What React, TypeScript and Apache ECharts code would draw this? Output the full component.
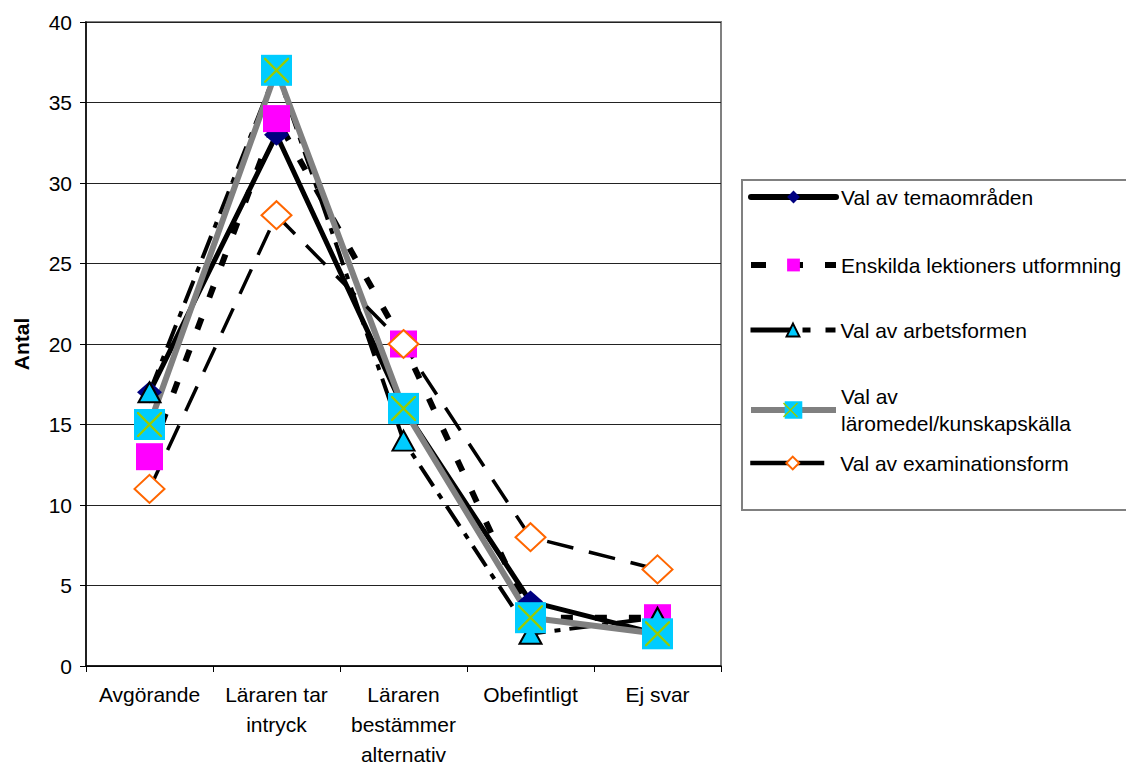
import React, { useEffect, useRef } from "react";
import * as echarts from "echarts";

const categories = ["Avgörande", "Läraren tar\nintryck", "Läraren\nbestämmer\nalternativ", "Obefintligt", "Ej svar"];
const yTicks = { min: 0, max: 40, interval: 5 };

const seriesNames = [
  "Val av temaområden",
  "Enskilda lektioners utformning",
  "Val av arbetsformen",
  "Val av läromedel/kunskapskälla",
  "Val av examinationsform",
];

const temaomraden = [17, 33, 16, 4, 2];
const lektioner = [13, 34, 20, 3, 3];
const arbetsformen = [17, 37, 14, 2, 3];
const laromedel = [15, 37, 16, 3, 2];
const examination = [11, 28, 20, 8, 6];

const FONT = "'Liberation Sans', Arial, sans-serif";
const FS = 21;
const X_PATH =
  "path://M0,0 L1.3,0 L20,18.7 L20,20 L18.7,20 L0,1.3 Z M20,0 L20,1.3 L1.3,20 L0,20 L0,18.7 L18.7,0 Z";

export default function App() {
  const ref = useRef<HTMLDivElement>(null);

  useEffect(() => {
    if (!ref.current) return;
    const chart = echarts.init(ref.current, null, { renderer: "svg" });

    const styles = [
      {
        line: { color: "#000000", width: 5, type: "solid" },
        legendLine: { color: "#000000", width: 6, type: "solid", cap: "round" },
        symbol: "diamond",
        size: [25, 22],
        item: { color: "#000080", borderWidth: 0 },
      },
      {
        line: { color: "#000000", width: 6, type: [12, 22] },
        legendLine: { color: "#000000", width: 6, type: [15, 22] },
        symbol: "rect",
        size: 27,
        item: { color: "#FF00FF", borderWidth: 0 },
      },
      {
        line: { color: "#000000", width: 4, type: [24, 9, 6, 9] },
        legendLine: { color: "#000000", width: 5, type: [42, 10, 8, 15] },
        symbol: "triangle",
        size: [22, 20],
        item: { color: "#00CCFF", borderColor: "#000000", borderWidth: 2 },
      },
      {
        line: { color: "#808080", width: 6, type: "solid" },
        legendLine: { color: "#808080", width: 6, type: "solid" },
        symbol: "rect",
        size: 31,
        item: { color: "#00CCFF", borderWidth: 0 },
      },
      {
        line: { color: "#000000", width: 3.5, type: [27, 16] },
        legendLine: { color: "#000000", width: 4.5, type: [74, 30] },
        symbol: "diamond",
        size: [30, 28],
        item: { color: "#FFFFFF", borderColor: "#FF6600", borderWidth: 2 },
      },
    ];
    const datas = [temaomraden, lektioner, arbetsformen, laromedel, examination];

    const lineSeries = datas.map((d, i) => ({
      name: seriesNames[i],
      type: "line",
      data: d,
      z: 2,
      showSymbol: false,
      symbol: styles[i].symbol,
      symbolSize: styles[i].size,
      lineStyle: { ...styles[i].line },
      itemStyle: { ...styles[i].item },
      emphasis: { disabled: true },
    }));

    const markerSeries: any[] = [];
    datas.forEach((d, i) => {
      markerSeries.push({
        name: seriesNames[i] + " ",
        type: "scatter",
        data: d,
        z: 3,
        symbol: styles[i].symbol,
        symbolSize: styles[i].size,
        itemStyle: { ...styles[i].item, opacity: 1 },
        emphasis: { disabled: true },
      });
      if (i === 3) {
        markerSeries.push({
          name: seriesNames[i] + "  ",
          type: "scatter",
          data: d,
          z: 3,
          symbol: X_PATH,
          symbolSize: 25,
          itemStyle: { color: "#99CC00", opacity: 1 },
          emphasis: { disabled: true },
        });
      }
    });

    const mkLegend = (i: number, top: number, itemHeight: number, formatter?: string) => ({
      data: [seriesNames[i]],
      left: 748,
      top,
      orient: "vertical",
      itemWidth: 85,
      itemHeight,
      itemGap: 5,
      padding: 0,
      selectedMode: false,
      formatter,
      lineStyle: { ...styles[i].legendLine },
      textStyle: { fontSize: FS, color: "#000", fontFamily: FONT, lineHeight: 27 },
    });

    chart.setOption({
      animation: false,
      backgroundColor: "#ffffff",
      textStyle: { fontFamily: FONT },
      grid: {
        left: 86,
        right: 405,
        top: 22,
        bottom: 101,
        show: true,
        borderColor: "#808080",
        borderWidth: 2,
        backgroundColor: "transparent",
      },
      legend: [
        mkLegend(0, 183.5, 16),
        mkLegend(1, 251.5, 16),
        mkLegend(2, 316.5, 16),
        mkLegend(3, 383, 22, "Val av\nläromedel/kunskapskälla"),
        mkLegend(4, 449.5, 16),
      ],
      xAxis: {
        type: "category",
        data: categories,
        boundaryGap: true,
        axisLine: { lineStyle: { color: "#000", width: 1.5 } },
        axisTick: { show: true, length: 6, lineStyle: { color: "#000" } },
        axisLabel: {
          color: "#000",
          fontSize: FS,
          lineHeight: 30,
          margin: 13,
          fontFamily: FONT,
          interval: 0,
        },
        splitLine: { show: false },
      },
      yAxis: {
        type: "value",
        min: yTicks.min,
        max: yTicks.max,
        interval: yTicks.interval,
        name: "Antal",
        nameLocation: "middle",
        nameGap: 54,
        nameTextStyle: { fontSize: FS, fontWeight: "bold", color: "#000", fontFamily: FONT },
        axisLine: { show: true, lineStyle: { color: "#000", width: 1.5 } },
        axisTick: { show: true, length: 6, lineStyle: { color: "#000" } },
        axisLabel: { color: "#000", fontSize: FS, margin: 14, fontFamily: FONT },
        splitLine: { show: true, lineStyle: { color: "#222", width: 1 } },
      },
      graphic: [
        {
          type: "rect",
          shape: { x: 742, y: 180, width: 420, height: 330 },
          style: { fill: "none", stroke: "#808080", lineWidth: 2 },
          z: 0,
        },
        {
          type: "line",
          z: 100,
          shape: { x1: 783.5, y1: 403, x2: 797.5, y2: 417 },
          style: { stroke: "#99CC00", lineWidth: 1.5 },
        },
        {
          type: "line",
          z: 100,
          shape: { x1: 797.5, y1: 403, x2: 783.5, y2: 417 },
          style: { stroke: "#99CC00", lineWidth: 1.5 },
        },
      ],
      series: [...lineSeries, ...markerSeries],
    });

    return () => chart.dispose();
  }, []);

  return (
    <div
      ref={ref}
      style={{ position: "fixed", left: 0, top: 0, width: 1126, height: 769, background: "#fff" }}
    />
  );
}
